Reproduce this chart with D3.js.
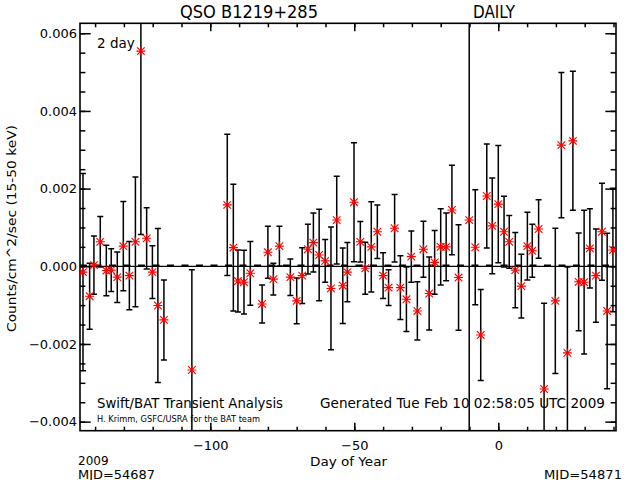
<!DOCTYPE html>
<html><head><meta charset="utf-8">
<script src="https://cdn.jsdelivr.net/npm/d3@7"></script>
<style>
html,body{margin:0;padding:0;background:#fff;}
svg{display:block;font-family:"DejaVu Sans",sans-serif;}
</style></head>
<body>
<script>
// ---- data ----
const days = [-144.2,-141.9,-140.4,-138.2,-136.1,-134.4,-132.3,-130.2,-128.1,-126.0,
  -124.1,-122.1,-120.1,-118.2,-116.1,-106.4,-94.1,-92.0,-90.4,-88.3,
  -86.1,-82.0,-80.0,-78.1,-76.0,-72.2,-70.0,-68.1,-66.1,-64.2,
  -62.2,-60.1,-58.1,-56.1,-54.0,-52.4,-50.1,-47.9,-46.2,-44.1,
  -42.0,-40.0,-38.1,-36.0,-34.0,-31.9,-30.2,-28.1,-26.0,-24.0,
  -22.1,-20.0,-18.1,-16.1,-13.8,-10.1,-8.0,-6.1,-4.0,-2.1,
  0.0,2.0,3.8,5.9,8.0,10.1,11.8,14.0,15.9,19.8,
  21.9,24.0,25.9,27.9,29.8,31.8,33.9,36.0,37.8,39.8];
const rates = [-0.00015,-0.00077,0.00003,0.00063,-0.00011,-0.0001,-0.00028,0.00052,-0.00024,0.00063,
  0.00554,0.00072,-0.00015,-0.00101,-0.00138,-0.00267,0.00158,0.00048,-0.00038,-0.00041,
  -0.00018,-0.00097,0.00036,-0.00033,0.00052,-0.00028,-0.00089,-0.00024,0.00044,0.00061,
  0.00029,0.00014,-0.00057,0.00119,-0.0005,-0.00015,0.00165,0.00063,-0.00005,0.0005,
  0.00089,-0.00024,-0.00055,0.00098,-0.00055,-0.00085,0.00025,-0.00115,0.00044,-0.0007,
  0.0001,0.0005,0.0005,0.00145,-0.00029,0.00119,0.00049,-0.00177,0.00181,0.00104,
  0.0016,0.00089,0.00063,-0.0001,-0.00051,0.00052,0.0004,0.00096,-0.00316,-0.00089,
  0.00312,-0.00223,0.00323,-0.0004,-0.00041,0.00046,-0.00024,0.00089,-0.00115,0.00042];
const errors = [0.00254,0.00085,0.00075,0.00065,0.00065,0.00055,0.00065,0.00115,0.00088,0.00167,
  0.00472,0.00079,0.00068,0.00198,0.00103,0.00258,0.00182,0.00163,0.0008,0.00082,
  0.00082,0.00049,0.00067,0.00041,0.00051,0.00047,0.00059,0.00072,0.00064,0.00076,
  0.00118,0.00055,0.00158,0.00113,0.00097,0.00076,0.00153,0.00052,0.00067,0.00116,
  0.00069,0.00059,0.00046,0.00087,0.00082,0.00083,0.00066,0.00075,0.00072,0.00094,
  0.00082,0.00098,0.00087,0.00115,0.00136,0.02,0.00148,0.00117,0.00134,0.00123,
  0.00151,0.00091,0.00068,0.00097,0.00082,0.00087,0.00068,0.00075,0.00221,0.00187,
  0.00187,0.00221,0.00179,0.00126,0.00185,0.00102,0.0012,0.00125,0.002,0.00159];
const meanRate = 0.00002;
const xMajorTicks = [-100,-50,0];
const xMinorTicks = [-140,-130,-120,-110,-100,-90,-80,-70,-60,-50,-40,-30,-20,-10,0,10,20,30,40];
const yMajorTicks = [-0.004,-0.002,0.000,0.002,0.004,0.006];
const yMinorTicks = d3.range(-8,13).map(k=>k*0.0005);
const xDomain = [-145.24, 40.87];
const yDomain = [-0.004233, 0.006256];
const titleText = "QSO B1219+285";
const modeText = "DAILY";
const binText = "2 day";
const yTitle = "Counts/cm^2/sec (15-50 keV)";
const xTitle = "Day of Year";
const yearText = "2009";
const mjdStart = "MJD=54687";
const mjdEnd = "MJD=54871";
const credit1 = "Swift/BAT Transient Analysis";
const credit2 = "H. Krimm, GSFC/USRA for the BAT team";
const generated = "Generated Tue Feb 10 02:58:05 UTC 2009";

// ---- layout ----
const L=80, R=616, T=23.3, B=430.7;
const svg = d3.select("body").append("svg").attr("width",640).attr("height",480);
const x = d3.scaleLinear().domain(xDomain).range([L,R]);
const y = d3.scaleLinear().domain(yDomain).range([B,T]);

svg.append("defs").append("clipPath").attr("id","clip")
  .append("rect").attr("x",L).attr("y",T).attr("width",R-L).attr("height",B-T);

const fmt = d3.format(".3f");
function styleAxis(g){ g.select(".domain").remove(); g.selectAll("line").attr("stroke","#000").attr("stroke-width",1.5); g.selectAll("text").attr("fill","#000").attr("font-size",13).attr("font-family","DejaVu Sans"); }

// bottom
svg.append("g").attr("transform",`translate(0,${B})`)
  .call(d3.axisBottom(x).tickValues(xMinorTicks).tickSize(-4).tickSizeOuter(0).tickFormat("")).call(styleAxis);
svg.append("g").attr("transform",`translate(0,${B})`)
  .call(d3.axisBottom(x).tickValues(xMajorTicks).tickSize(-8).tickSizeOuter(0).tickPadding(10).tickFormat(d3.format("d"))).call(styleAxis);
// top
svg.append("g").attr("transform",`translate(0,${T})`)
  .call(d3.axisTop(x).tickValues(xMinorTicks).tickSize(-4).tickSizeOuter(0).tickFormat("")).call(styleAxis);
svg.append("g").attr("transform",`translate(0,${T})`)
  .call(d3.axisTop(x).tickValues(xMajorTicks).tickSize(-8).tickSizeOuter(0).tickFormat("")).call(styleAxis);
// left
svg.append("g").attr("transform",`translate(${L},0)`)
  .call(d3.axisLeft(y).tickValues(yMinorTicks).tickSize(-5.4).tickSizeOuter(0).tickFormat("")).call(styleAxis);
svg.append("g").attr("transform",`translate(${L},0)`)
  .call(d3.axisLeft(y).tickValues(yMajorTicks).tickSize(-10.7).tickSizeOuter(0).tickPadding(3).tickFormat(fmt)).call(styleAxis);
// right
svg.append("g").attr("transform",`translate(${R},0)`)
  .call(d3.axisRight(y).tickValues(yMinorTicks).tickSize(-5.4).tickSizeOuter(0).tickFormat("")).call(styleAxis);
svg.append("g").attr("transform",`translate(${R},0)`)
  .call(d3.axisRight(y).tickValues(yMajorTicks).tickSize(-10.7).tickSizeOuter(0).tickFormat("")).call(styleAxis);

// frame
svg.append("rect").attr("x",L).attr("y",T).attr("width",R-L).attr("height",B-T)
  .attr("fill","none").attr("stroke","#000").attr("stroke-width",1.6);

const plot = svg.append("g").attr("clip-path","url(#clip)");
// zero line and mean line
plot.append("line").attr("x1",L).attr("x2",R).attr("y1",y(0)).attr("y2",y(0))
  .attr("stroke","#000").attr("stroke-width",1.2);
plot.append("line").attr("x1",L).attr("x2",R).attr("y1",y(meanRate)).attr("y2",y(meanRate))
  .attr("stroke","#000").attr("stroke-width",2.2).attr("stroke-dasharray","7,7.5");

const data = days.map((d,i)=>({d, r:rates[i], e:errors[i]}));
// error bars
const eb = plot.append("g").attr("stroke","#000").attr("stroke-width",1.5);
data.forEach(p=>{
  const cx = x(p.d), y1 = y(p.r+p.e), y2 = y(p.r-p.e);
  eb.append("line").attr("x1",cx).attr("x2",cx).attr("y1",y1).attr("y2",y2);
  eb.append("line").attr("x1",cx-3).attr("x2",cx+3).attr("y1",y1).attr("y2",y1);
  eb.append("line").attr("x1",cx-3).attr("x2",cx+3).attr("y1",y2).attr("y2",y2);
});
// asterisks
const st = plot.append("g").attr("stroke","#ff0000").attr("stroke-width",1.1);
data.forEach(p=>{
  const cx = x(p.d), cy = y(p.r), a=4.5, b=3.8;
  st.append("line").attr("x1",cx-a).attr("x2",cx+a).attr("y1",cy).attr("y2",cy);
  st.append("line").attr("x1",cx).attr("x2",cx).attr("y1",cy-a).attr("y2",cy+a);
  st.append("line").attr("x1",cx-b).attr("x2",cx+b).attr("y1",cy-b).attr("y2",cy+b);
  st.append("line").attr("x1",cx-b).attr("x2",cx+b).attr("y1",cy+b).attr("y2",cy-b);
  plot.append("circle").attr("cx",cx).attr("cy",cy).attr("r",1.6).attr("fill","#ff0000");
});

// ---- texts ----
function txt(s,xx,yy,size,anchor){ return svg.append("text").attr("x",xx).attr("y",yy).attr("font-size",size)
  .attr("text-anchor",anchor||"start").attr("fill","#000").text(s); }
txt(titleText,180,17.5,17).attr("textLength",138).attr("lengthAdjust","spacingAndGlyphs");
txt(modeText,473,17.5,17).attr("textLength",42).attr("lengthAdjust","spacingAndGlyphs");
txt(binText,97,48,13.5);
txt(credit1,97,408,13.5).attr("textLength",186).attr("lengthAdjust","spacingAndGlyphs");
txt(credit2,97,422,8).attr("textLength",163).attr("lengthAdjust","spacingAndGlyphs");
txt(generated,320,408,13.5).attr("textLength",285).attr("lengthAdjust","spacingAndGlyphs");
txt(xTitle,310,466,13).attr("textLength",77).attr("lengthAdjust","spacingAndGlyphs");
txt(yearText,78,464.5,12);
txt(mjdStart,78,478.5,12).attr("textLength",77).attr("lengthAdjust","spacingAndGlyphs");
txt(mjdEnd,544,478.5,12).attr("textLength",78).attr("lengthAdjust","spacingAndGlyphs");
svg.append("text").attr("transform","translate(16,228.5) rotate(-90)").attr("text-anchor","middle")
  .attr("font-size",13).attr("fill","#000").attr("textLength",207).attr("lengthAdjust","spacingAndGlyphs").text(yTitle);
</script>
</body></html>
